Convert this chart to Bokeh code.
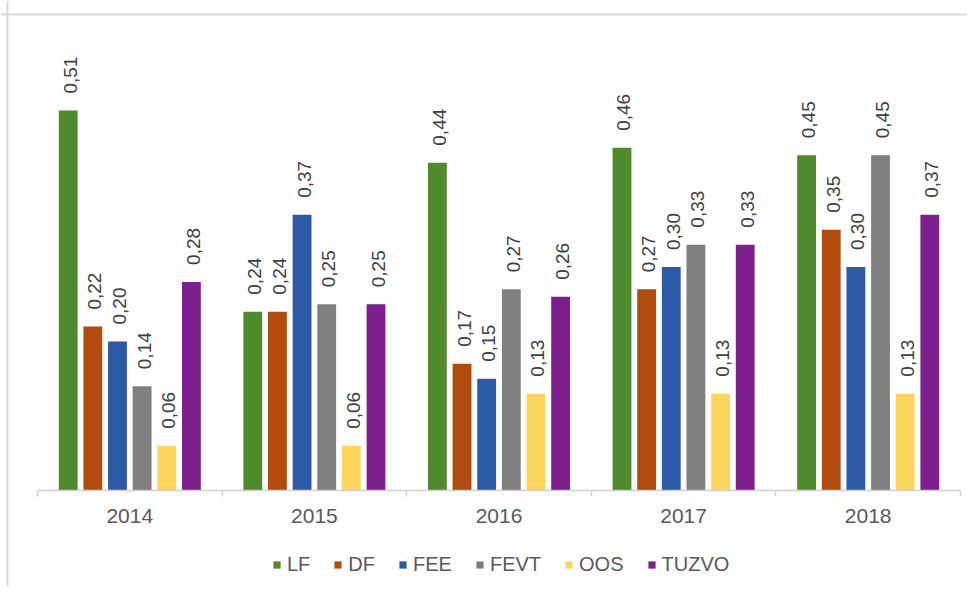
from bokeh.plotting import figure
from bokeh.models import (Range1d, LinearAxis, FixedTicker, ColumnDataSource, Legend,
                          LegendItem, Span)
from bokeh.embed import file_html
from bokeh.resources import INLINE
from bokeh.core.properties import value

# ---- data ----
years = ["2014", "2015", "2016", "2017", "2018"]
series = ["LF", "DF", "FEE", "FEVT", "OOS", "TUZVO"]
LF = [0.51, 0.24, 0.44, 0.46, 0.45]
DF = [0.22, 0.24, 0.17, 0.27, 0.35]
FEE = [0.20, 0.37, 0.15, 0.30, 0.30]
FEVT = [0.14, 0.25, 0.27, 0.33, 0.45]
OOS = [0.06, 0.06, 0.13, 0.13, 0.13]
TUZVO = [0.28, 0.25, 0.26, 0.33, 0.37]
values = [LF, DF, FEE, FEVT, OOS, TUZVO]
colors = ["#4f8a2c", "#b24c0e", "#2d5aa6", "#7f7f7f", "#fcd55c", "#7d1f8c"]

FONT = "Liberation Sans"
W, H = 967, 586
px_x = 184.6   # pixels per category
px_y = 745.0   # pixels per unit
base_px = 490  # baseline distance from top of canvas
left_px = 37   # distance from canvas left to first category edge

x0 = -0.5 - left_px / px_x
x1 = x0 + W / px_x
y1 = base_px / px_y
y0 = y1 - H / px_y

p = figure(width=W, height=H, output_backend="svg", toolbar_location=None,
           x_range=Range1d(x0, x1), y_range=Range1d(y0, y1),
           min_border_left=0, min_border_right=0, min_border_top=0, min_border_bottom=0,
           x_axis_type=None, y_axis_type=None)
p.grid.visible = False
p.outline_line_color = None
p.background_fill_color = "white"
p.border_fill_color = "white"

# border lines of the chart area (top and left)
p.add_layout(Span(location=y1 - 14 / px_y, dimension="width", line_color="#d9d9d9", line_width=2))
p.add_layout(Span(location=x0 + 7 / px_x, dimension="height", line_color="#d9d9d9", line_width=2))

n = len(series)
step = 0.1335
bw = 0.102
items = []
for i, (name, vals, col) in enumerate(zip(series, values, colors)):
    off = (i - (n - 1) / 2) * step
    xs = [j + off for j in range(len(years))]
    src = ColumnDataSource(dict(x=xs, top=vals, lab=[f"{v:.2f}".replace(".", ",") for v in vals]))
    r = p.vbar(x="x", top="top", width=bw, bottom=0, source=src, fill_color=col, line_color=None)
    p.text(x="x", y="top", text="lab", source=src, angle=1.5708, y_offset=-17, x_offset=2,
           text_align="left", text_baseline="middle", text_font=value(FONT),
           text_font_size="19px", text_color="#404040")
    items.append(LegendItem(label=name, renderers=[r]))

# baseline
p.segment(x0=[-0.5], y0=[0], x1=[len(years) - 0.5], y1=[0], line_color="#d0d0d0", line_width=1.5)

# tick marks at category boundaries
tick_axis = LinearAxis(ticker=FixedTicker(ticks=[k - 0.5 for k in range(len(years) + 1)]),
                       fixed_location=0)
tick_axis.axis_line_color = None
tick_axis.major_tick_line_color = "#d0d0d0"
tick_axis.major_tick_line_width = 1.5
tick_axis.major_tick_in = 0
tick_axis.major_tick_out = 6
tick_axis.minor_tick_line_color = None
tick_axis.major_label_text_color = None
tick_axis.major_label_text_font_size = "1px"
p.add_layout(tick_axis, "below")

# category labels
lab_axis = LinearAxis(ticker=FixedTicker(ticks=list(range(len(years)))), fixed_location=0)
lab_axis.major_label_overrides = {k: y for k, y in enumerate(years)}
lab_axis.axis_line_color = None
lab_axis.major_tick_line_color = None
lab_axis.minor_tick_line_color = None
lab_axis.major_tick_in = 0
lab_axis.major_tick_out = 0
lab_axis.major_label_standoff = 18
lab_axis.major_label_text_font = FONT
lab_axis.major_label_text_font_size = "21px"
lab_axis.major_label_text_color = "#595959"
p.add_layout(lab_axis, "below")

legend = Legend(items=items, orientation="horizontal", location=(272, 10),
                glyph_width=9, glyph_height=9, label_standoff=6, spacing=23,
                padding=0, margin=0, border_line_color=None, background_fill_alpha=0,
                label_text_font=FONT, label_text_font_size="20px", label_text_color="#595959",
                label_height=20)
p.add_layout(legend, "center")

open("out.html", "w").write(file_html(p, INLINE))
